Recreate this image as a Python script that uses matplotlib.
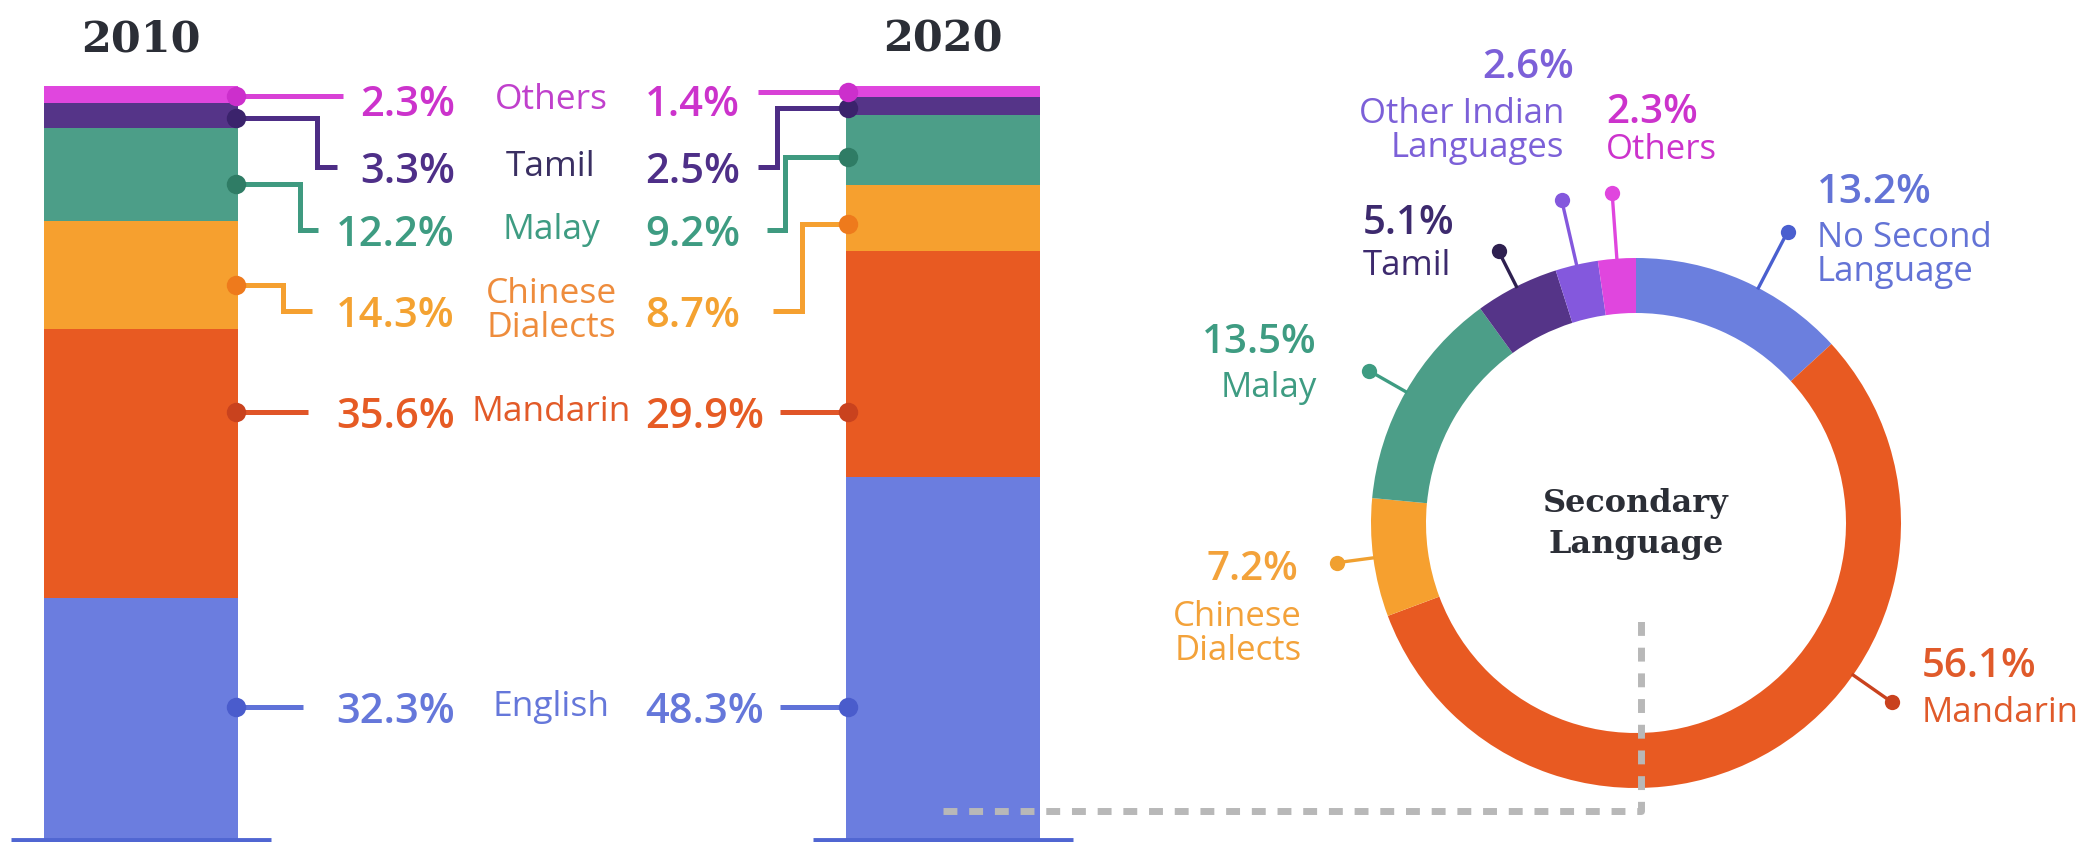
import numpy as np
import matplotlib.pyplot as plt

W, H = 2099, 842
SANS = ['Open Sans', 'DejaVu Sans']
SERIF = ['DejaVu Serif']

# ---- data -------------------------------------------------------------
years = ['2010', '2020']
langs = ['English', 'Mandarin', 'Chinese\nDialects', 'Malay', 'Tamil', 'Others']
share_2010 = [32.3, 35.6, 14.3, 12.2, 3.3, 2.3]
share_2020 = [48.3, 29.9, 8.7, 9.2, 2.5, 1.4]

second_langs = ['No Second\nLanguage', 'Mandarin', 'Chinese\nDialects', 'Malay',
                'Tamil', 'Other Indian\nLanguages', 'Others']
second_share = [13.2, 56.1, 7.2, 13.5, 5.1, 2.6, 2.3]
center_label = 'Secondary\nLanguage'

# ---- styles -----------------------------------------------------------
bar_colors = ['#6b7ddf', '#e85a22', '#f6a02f', '#4c9e88', '#553488', '#e046de']
line_colors = ['#5f72d8', '#e05528', '#f5a030', '#3f9a80', '#4d2d85', '#d841d6']
dot_colors = ['#4a5ccc', '#c9421e', '#ee7a1c', '#2f7c65', '#3b236c', '#cc2fcc']
pct_colors = ['#6577da', '#e65b24', '#f4a231', '#3e9c82', '#4e2f88', '#cc33cc']
name_colors = ['#6577da', '#e25a28', '#ee8c3c', '#3e9c82', '#3a2f62', '#c040cc']

donut_colors = ['#6b7fde', '#e85a22', '#f6a02f', '#4c9e88', '#553488', '#8458dd', '#e046de']
donut_text = ['#6373d6', '#e05a2a', '#f3a23a', '#3e9c82', '#3d2a6e', '#7c60d8', '#cc33cc']
donut_dots = ['#4a5fcf', '#c9421e', '#f0a030', '#3e9c82', '#2e2050', '#8458dd', '#e046de']

PCT_SIZE = 30
NAME_SIZE = 25.5

fig = plt.figure(figsize=(W / 100, H / 100), dpi=100)

# bar axes: x in pixels, y in percent (bar top at 86 px from the top)
ax_b = fig.add_axes([0, 0, 1100 / W, 756 / H])
ax_b.set_xlim(0, 1100)
ax_b.set_ylim(0, 100)
ax_b.axis('off')

bar_x = [141, 943]
bar_w = 194
for xpos, shares in zip(bar_x, [share_2010, share_2020]):
    bottoms = np.concatenate([[0], np.cumsum(shares)[:-1]])
    ax_b.bar(xpos, shares, bottom=bottoms, width=bar_w, color=bar_colors, linewidth=0)

# donut axes (R = 265 px, centre at 1636, 523)
R = 265
ax_d = fig.add_axes([(1636 - R) / W, (H - 523 - R) / H, 2 * R / W, 2 * R / H])
ax_d.pie(second_share, colors=donut_colors, startangle=90, counterclock=False,
         radius=1, wedgeprops=dict(width=55 / R, linewidth=0))
ax_d.set_xlim(-1, 1)
ax_d.set_ylim(-1, 1)
ax_d.axis('off')

# overlay in pixel coordinates
ov = fig.add_axes([0, 0, 1, 1], zorder=5)
ov.set_xlim(0, W)
ov.set_ylim(H, 0)
ov.axis('off')


def to_ov(ax, x, y):
    return ov.transData.inverted().transform(ax.transData.transform((x, y)))


# year titles
for xpos, yr in zip(bar_x, years):
    ov.text(to_ov(ax_b, xpos, 0)[0], 39, yr, ha='center', va='center',
            fontsize=31, fontweight='bold', family=SERIF, color='#2b2e36')

# baselines under the bars
for xpos in bar_x:
    x0 = to_ov(ax_b, xpos - bar_w / 2, 0)[0]
    x1 = to_ov(ax_b, xpos + bar_w / 2, 0)[0]
    ov.plot([x0 - 33, x1 + 33], [840, 840], color='#5066d2', lw=3.5,
            solid_capstyle='butt')

# label rows (px) and connector layout
rows = [707, 412, 311, 230, 167, 100]
end_2010 = [303, 308, 312, 318, 337, 343]
elbow_2010 = [None, None, 283, 300, 317, None]
start_2020 = [780, 780, 773, 767, 758, 758]
elbow_2020 = [None, None, 802, 785, 777, None]


def connector(i, shares, edge_x, far_x, elbow_x):
    lo = sum(shares[:i])
    hi = lo + shares[i]
    top = to_ov(ax_b, 0, hi)[1]
    bot = to_ov(ax_b, 0, lo)[1]
    row = rows[i]
    if top + 30 < row < bot - 30:
        dy = row
    else:
        dy = top + 0.6 * (bot - top)
    if abs(dy - row) < 10:
        xs, ys = [edge_x, far_x], [dy, dy]
    else:
        xs, ys = [edge_x, elbow_x, elbow_x, far_x], [dy, dy, row, row]
    ov.plot(xs, ys, color=line_colors[i], lw=3.6, solid_joinstyle='miter',
            solid_capstyle='butt', zorder=2)
    ov.plot(edge_x, dy, 'o', ms=14, color=dot_colors[i], mec='none', zorder=3)


edge_2010 = to_ov(ax_b, bar_x[0] + bar_w / 2, 0)[0] - 2
edge_2020 = to_ov(ax_b, bar_x[1] - bar_w / 2, 0)[0] + 2
for i, name in enumerate(langs):
    connector(i, share_2010, edge_2010, end_2010[i], elbow_2010[i])
    connector(i, share_2020, edge_2020, start_2020[i], elbow_2020[i])
    ov.text(455, rows[i], f'{share_2010[i]}%', ha='right', va='center_baseline',
            fontsize=PCT_SIZE, fontweight='semibold', family=SANS, color=pct_colors[i])
    ov.text(645, rows[i], f'{share_2020[i]}%', ha='left', va='center_baseline',
            fontsize=PCT_SIZE, fontweight='semibold', family=SANS, color=pct_colors[i])
    ov.text(551, rows[i], name, ha='center', va='center', linespacing=1.0,
            fontsize=NAME_SIZE, family=SANS, color=name_colors[i])

# donut centre text
ov.text(1636, 524, center_label, ha='center', va='center', linespacing=1.45,
        fontsize=23, fontweight='bold', family=SERIF, color='#2b2e36')

# donut leaders and labels
leader_deg = [27.5, 125, None, None, None, None, None]
dot_r = [1.24, 1.18, 1.14, 1.16, 1.15, 1.25, 1.25]
pct_pos = [(1817, 188, 'left'), (1922, 662, 'left'), (1298, 565, 'right'),
           (1317, 338, 'right'), (1363, 219, 'left'), (1528, 63, 'center'),
           (1606, 108, 'left')]
name_pos = [(1817, 255, 'left'), (1922, 713, 'left'), (1302, 634, 'right'),
            (1317, 388, 'right'), (1363, 266, 'left'), (1564, 131, 'right'),
            (1606, 150, 'left')]
cum = np.concatenate([[0], np.cumsum(second_share)[:-1]])
for i, name in enumerate(second_langs):
    ang = leader_deg[i] if leader_deg[i] is not None else 3.6 * (cum[i] + second_share[i] / 2)
    t = np.radians(ang)
    p0 = to_ov(ax_d, np.sin(t), np.cos(t))
    p1 = to_ov(ax_d, dot_r[i] * np.sin(t), dot_r[i] * np.cos(t))
    ov.plot([p0[0], p1[0]], [p0[1], p1[1]], color=donut_dots[i], lw=2.4, zorder=2)
    ov.plot(p1[0], p1[1], 'o', ms=11, color=donut_dots[i], mec='none', zorder=3)
    px, py, pha = pct_pos[i]
    ov.text(px, py, f'{second_share[i]}%', ha=pha, va='center_baseline',
            fontsize=PCT_SIZE - 1, fontweight='semibold', family=SANS, color=donut_text[i])
    nx, ny, nha = name_pos[i]
    ov.text(nx, ny, name, ha=nha, va='center', multialignment=nha,
            linespacing=1.0, fontsize=NAME_SIZE - 0.5, family=SANS, color=donut_text[i])

# grey dashed guide from the 2020 bar to the donut
ov.plot([to_ov(ax_b, bar_x[1], 0)[0], 1641, 1641], [811, 811, 620],
        color='#b8b8b8', lw=5, dashes=(2.0, 1.7), solid_joinstyle='miter', zorder=4)

fig.savefig('out.png', dpi=100)
